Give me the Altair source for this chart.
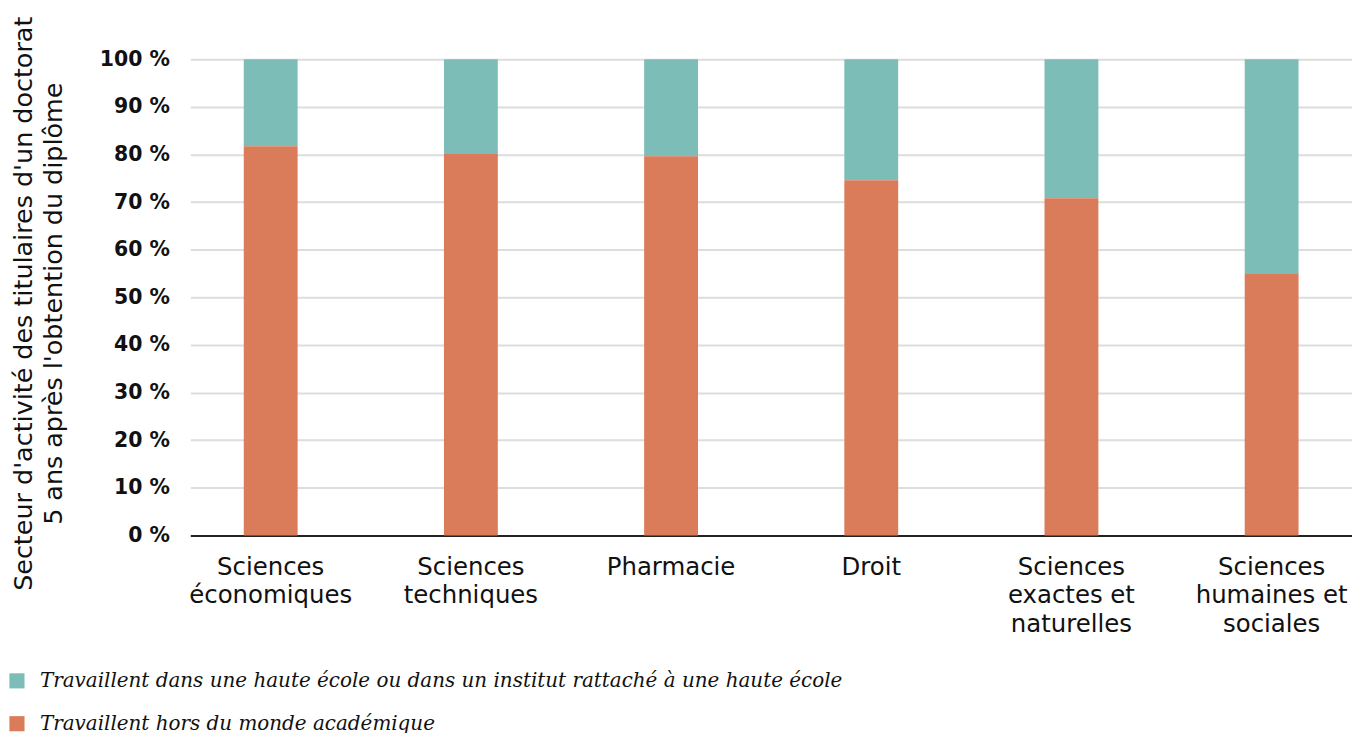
import altair as alt
import pandas as pd

categories = [
    "Sciences\néconomiques",
    "Sciences\ntechniques",
    "Pharmacie",
    "Droit",
    "Sciences\nexactes et\nnaturelles",
    "Sciences\nhumaines et\nsociales",
]
hors_academie = [81.7, 80.1, 79.6, 74.6, 70.8, 54.9]
haute_ecole = [round(100 - v, 1) for v in hors_academie]

series_names = [
    "Travaillent dans une haute école ou dans un institut rattaché à une haute école",
    "Travaillent hors du monde académique",
]
series_colors = ["#7DBDB7", "#DA7B59"]

rows = []
for c, a, b in zip(categories, haute_ecole, hors_academie):
    rows.append({"cat": c, "serie": series_names[0], "val": a, "ord": 1})
    rows.append({"cat": c, "serie": series_names[1], "val": b, "ord": 0})
df = pd.DataFrame(rows)

chart = alt.Chart(df).mark_bar().encode(
    x=alt.X(
        "cat:N",
        sort=categories,
        title=None,
        scale=alt.Scale(paddingInner=0.731, paddingOuter=0.267),
        axis=alt.Axis(
            labelExpr="split(datum.value, '\\n')",
            labelAngle=0,
            labelFont="DejaVu Sans",
            labelFontSize=24.5,
            labelFontWeight="normal",
            labelColor="#111111",
            labelLineHeight=28.5,
            labelPadding=20,
            labelBaseline="top",
            ticks=False,
            domainColor="#222222",
            domainWidth=2,
            grid=False,
        ),
    ),
    y=alt.Y(
        "val:Q",
        stack="zero",
        scale=alt.Scale(domain=[0, 100]),
        title=[
            "Secteur d'activité des titulaires d'un doctorat",
            "5 ans après l'obtention du diplôme",
        ],
        axis=alt.Axis(
            values=[0, 10, 20, 30, 40, 50, 60, 70, 80, 90, 100],
            labelExpr="datum.value + ' %'",
            labelFont="DejaVu Sans",
            labelFontSize=20.5,
            labelFontWeight="bold",
            labelColor="#111111",
            labelPadding=21,
            ticks=False,
            domain=False,
            gridColor="#DDDDDD",
            gridWidth=2,
            titleFont="DejaVu Sans",
            titleFontSize=25.5,
            titleFontWeight="normal",
            titleColor="#111111",
            titlePadding=33,
            titleLineHeight=30,
            titleY=245,
        ),
    ),
    color=alt.Color(
        "serie:N",
        scale=alt.Scale(domain=series_names, range=series_colors),
        title=None,
        legend=alt.Legend(
            orient="none",
            legendX=-184,
            legendY=614,
            direction="vertical",
            symbolType="square",
            symbolSize=230,
            symbolStrokeWidth=0,
            labelFont="DejaVu Serif",
            labelFontStyle="italic",
            labelFontSize=20,
            labelColor="#111111",
            labelLimit=0,
            rowPadding=23,
            labelOffset=13,
        ),
    ),
    order=alt.Order("ord:Q"),
).properties(
    width=1166,
    height=478,
    autosize=alt.AutoSizeParams(type="none"),
    padding={"top": 50, "left": 183, "right": 0, "bottom": 205},
).configure_view(stroke=None)

chart.save("out.html", embed_options={"renderer": "svg", "actions": False})
